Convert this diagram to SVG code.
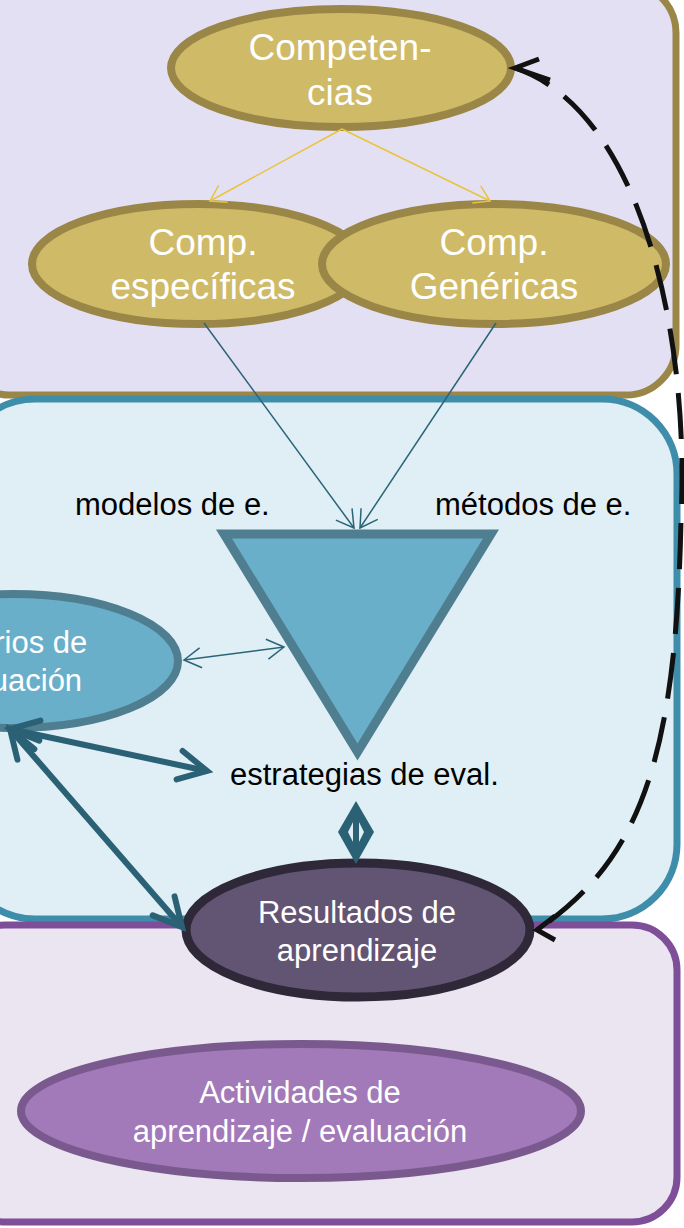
<svg xmlns="http://www.w3.org/2000/svg" width="684" height="1228" viewBox="0 0 684 1228">
<style>
.t{font-family:"Liberation Sans",Arial,sans-serif;text-anchor:middle;fill:#ffffff}
.lbl{font-family:"Liberation Sans",Arial,sans-serif;fill:#000000;font-size:31px}
.thin{fill:none;stroke:#2A6478;stroke-width:1.5}
.yel{fill:none;stroke:#E8C43C;stroke-width:1.5}
.thick{fill:none;stroke:#2A6175;stroke-width:6}
.dash{fill:none;stroke:#111111;stroke-width:5}
</style>
<defs>
<marker id="hy" markerUnits="userSpaceOnUse" orient="auto-start-reverse" refX="0" refY="0" markerWidth="40" markerHeight="40" overflow="visible">
<path d="M-15,-9.5 L0,0 L-15,9.5" fill="none" stroke="#E8C43C" stroke-width="1.5"/>
</marker>
<marker id="ht" markerUnits="userSpaceOnUse" orient="auto-start-reverse" refX="0" refY="0" markerWidth="40" markerHeight="40" overflow="visible">
<path d="M-17,-10 L0,0 L-17,10" fill="none" stroke="#2A6478" stroke-width="1.5"/>
</marker>
<marker id="hk" markerUnits="userSpaceOnUse" orient="auto-start-reverse" refX="0" refY="0" markerWidth="60" markerHeight="60" overflow="visible">
<path d="M-28,-14.5 L0,0 L-28,14.5" fill="none" stroke="#2A6175" stroke-width="6" stroke-linecap="round"/>
</marker>
</defs>
<rect x="0" y="0" width="684" height="1228" fill="#ffffff"/>
<g id="panels">
<rect id="panel-competencias" x="-40" y="-17" width="716" height="412" rx="50" ry="50" fill="#E4E0F3" stroke="#9A8748" stroke-width="7"/>
<rect id="panel-estrategias" x="-40" y="399" width="717" height="520" rx="75" ry="75" fill="#E0EEF5" stroke="#3E8DAA" stroke-width="7"/>
<rect id="panel-actividades" x="-40" y="925" width="717" height="297" rx="45" ry="45" fill="#EBE4F1" stroke="#7F4E98" stroke-width="7"/>
</g>
<g id="node-competencias">
<ellipse cx="341" cy="68" rx="170" ry="59" fill="#CFBA68" stroke="#9A8748" stroke-width="8"/>
<text class="t" font-size="37"><tspan x="340" y="60">Competen-</tspan><tspan x="340" y="105">cias</tspan></text>
</g>
<g id="node-especificas">
<ellipse cx="198" cy="264" rx="166" ry="60" fill="#CFBA68" stroke="#9A8748" stroke-width="8"/>
<text class="t" font-size="37"><tspan x="203" y="255">Comp.</tspan><tspan x="203" y="299">específicas</tspan></text>
</g>
<g id="node-genericas">
<ellipse cx="494" cy="264" rx="172" ry="60" fill="#CFBA68" stroke="#9A8748" stroke-width="8"/>
<text class="t" font-size="37"><tspan x="494" y="255">Comp.</tspan><tspan x="494" y="299">Genéricas</tspan></text>
</g>
<g id="node-triangulo">
<polygon points="224,534 491,534 357.5,752" fill="#6AAFC9" stroke="#4E7E90" stroke-width="9"/>
</g>
<g id="label-modelos"><text class="lbl" x="75" y="515">modelos de e.</text></g>
<g id="label-metodos"><text class="lbl" x="435" y="515">métodos de e.</text></g>
<g id="label-estrategias"><text class="lbl" x="230" y="785">estrategias de eval.</text></g>
<g id="node-criterios">
<ellipse cx="13" cy="661" rx="165" ry="67" fill="#6AAFC9" stroke="#4E7E90" stroke-width="8"/>
<text class="t" font-size="31"><tspan x="8" y="653">Criterios de</tspan><tspan x="8" y="691">evaluación</tspan></text>
</g>
<g id="node-resultados">
<ellipse cx="358" cy="930" rx="172" ry="67" fill="#625473" stroke="#2F2838" stroke-width="9"/>
<text class="t" font-size="31"><tspan x="357" y="923">Resultados de</tspan><tspan x="357" y="961">aprendizaje</tspan></text>
</g>
<g id="node-actividades">
<ellipse cx="301" cy="1111" rx="280" ry="67" fill="#A279B9" stroke="#7A5A8E" stroke-width="8"/>
<text class="t" font-size="31"><tspan x="300" y="1103">Actividades de</tspan><tspan x="300" y="1142">aprendizaje / evaluación</tspan></text>
</g>
<g id="connectors">
<path class="yel" d="M342,129 L210,201" marker-end="url(#hy)"/>
<path class="yel" d="M342,129 L490,201" marker-end="url(#hy)"/>
<path class="thin" d="M204,323 L354,528" marker-end="url(#ht)"/>
<path class="thin" d="M496,323 L360,528" marker-end="url(#ht)"/>
<path class="thin" d="M184,660 L284,647" marker-start="url(#ht)" marker-end="url(#ht)"/>
<path class="thick" d="M10,729 L207,771" marker-start="url(#hk)" marker-end="url(#hk)"/>
<path class="thick" d="M10,729 L182,927" marker-start="url(#hk)" marker-end="url(#hk)"/>
<path d="M356,801 L374,832 L356,864 L338,832 Z" fill="#2A6175"/>
<path d="M353,822 L348,832 L353,842 Z M359,822 L364,832 L359,842 Z" fill="#E0EEF5"/>
<path class="dash" d="M515,68 C640,110 690,330 681,520 C676,760 640,860 537,930" stroke-dasharray="46 19" stroke-dashoffset="8"/>
<path class="dash" d="M539,59 L515,68 L550,80"/>
<path class="dash" d="M555,916 L537,930 L555,940"/>
</g>
</svg>
